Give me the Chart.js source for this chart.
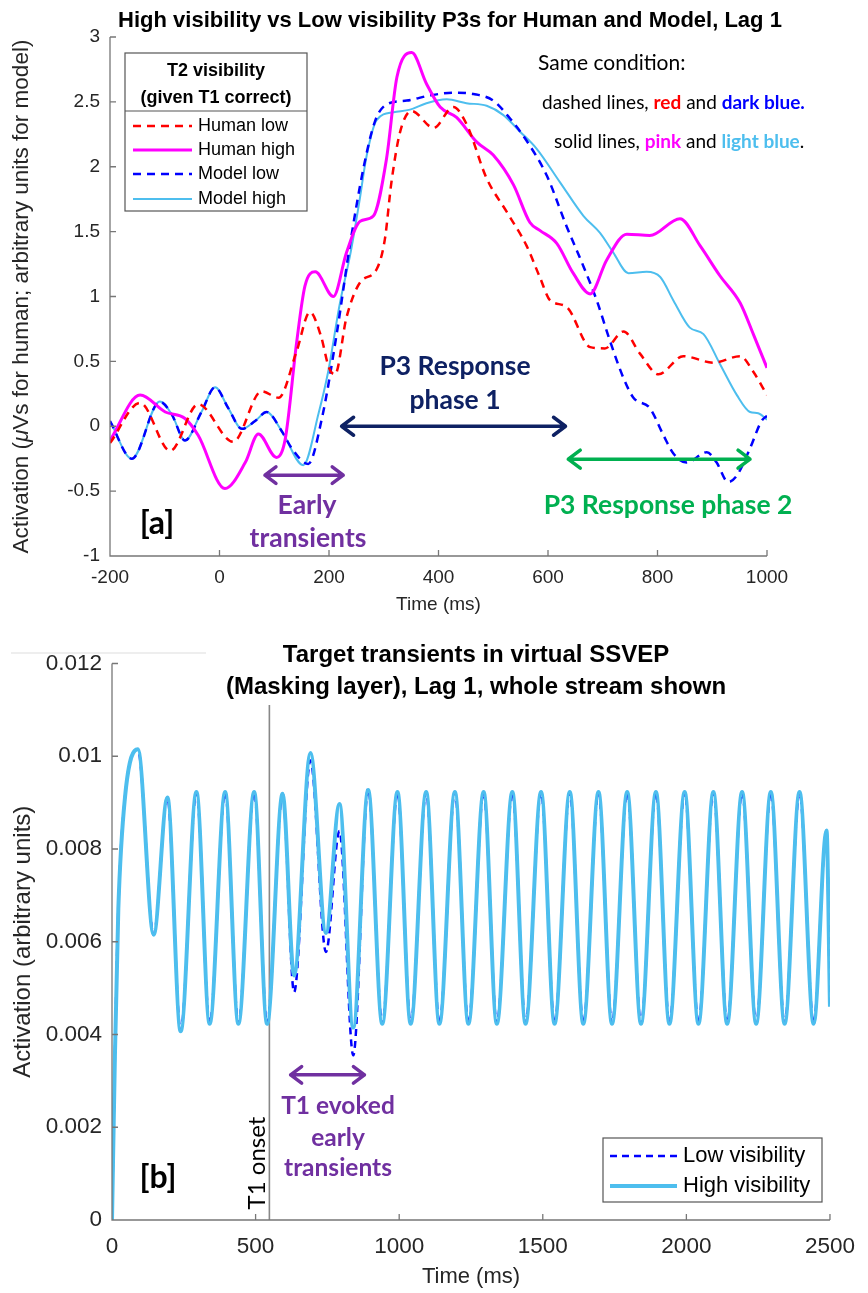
<!DOCTYPE html>
<html>
<head>
<meta charset="utf-8">
<script src="https://cdn.jsdelivr.net/npm/chart.js@4.4.0/dist/chart.umd.min.js"></script>
<style>
  body { margin: 0; background: #fff; width: 868px; height: 1293px; overflow: hidden; position: relative; }
  canvas { position: absolute; left: 0; }
  #chartA { top: 0; }
  #chartB { top: 640px; }
</style>
</head>
<body>
<canvas id="chartA" width="868" height="620"></canvas>
<canvas id="chartB" width="868" height="653"></canvas>
<script>
// --- PANEL [a] DATA: time (ms) and activation ---
const humanLowT  = [-200,-145,-90,-39,25,77,108,141,165,185,200,211,232,257,287,302,314,330,351,391,427,451,488,525,561,585,604,634,677,704,738,768,802,847,902,951,975,1000];
const humanLowV  = [-0.13,0.18,-0.19,0.17,-0.12,0.27,0.22,0.58,0.88,0.70,0.45,0.40,0.84,1.11,1.21,1.44,1.88,2.27,2.43,2.30,2.46,2.33,1.91,1.65,1.39,1.15,0.97,0.92,0.61,0.60,0.73,0.56,0.40,0.54,0.49,0.54,0.42,0.24];

const humanHighT = [-200,-145,-99,-63,-39,10,47,71,104,120,141,156,175,208,232,257,281,305,324,351,378,403,433,470,500,537,567,585,616,646,677,707,744,786,841,878,914,951,975,1000];
const humanHighV = [-0.11,0.24,0.11,0.06,-0.07,-0.48,-0.28,-0.06,-0.24,-0.10,0.65,1.08,1.19,1.00,1.34,1.58,1.62,2.06,2.69,2.88,2.64,2.46,2.38,2.19,2.09,1.86,1.57,1.51,1.41,1.18,1.02,1.28,1.48,1.47,1.60,1.39,1.16,0.95,0.71,0.45];

const modelLowT  = [-200,-160,-109,-87,-63,-33,-8,16,41,65,86,114,132,162,187,214,238,263,284,305,342,385,427,464,500,531,561,598,634,665,689,713,738,756,786,811,829,853,890,908,929,945,969,990,1000];
const modelLowV  = [0.04,-0.25,0.19,0.09,-0.11,0.11,0.30,0.14,-0.02,0.04,0.11,-0.04,-0.17,-0.29,0.06,0.71,1.39,1.99,2.35,2.48,2.51,2.55,2.57,2.56,2.51,2.37,2.20,1.93,1.54,1.23,0.97,0.66,0.37,0.22,0.14,-0.07,-0.21,-0.28,-0.20,-0.28,-0.43,-0.38,-0.17,0.04,0.08];

const modelHighT = [-200,-160,-109,-87,-63,-33,-8,16,41,65,86,114,153,181,198,220,240,255,269,287,318,348,378,415,451,488,518,549,579,622,665,695,719,747,780,805,829,859,884,914,945,969,984,1000];
const modelHighV = [0.04,-0.25,0.19,0.09,-0.11,0.11,0.30,0.14,-0.02,0.04,0.11,-0.04,-0.30,0.10,0.41,0.95,1.35,1.72,2.09,2.36,2.42,2.44,2.49,2.52,2.49,2.47,2.40,2.27,2.14,1.88,1.62,1.49,1.34,1.18,1.19,1.15,0.97,0.76,0.71,0.48,0.24,0.11,0.10,0.05];

const xTicksA = [-200, 1000, 200];   // min, max, step
const yTicksA = [-1, 3, 0.5];

// --- PANEL [b] DATA: virtual SSVEP, whole stream ---
const streamT = [0,10,22,45,90,145,193,239,294,340,394,440,495,540,594,634,691,745,792,840,892,941,994,1040,1094,1140,1194,1241,1294,1340,1394,1440,1494,1541,1594,1641,1694,1741,1794,1842,1894,1941,1994,2042,2094,2142,2194,2243,2294,2342,2394,2443,2488,2500];
const highVis = [0,0.0035,0.0067,0.0091,0.01015,0.00615,0.00911,0.00407,0.00923,0.00423,0.00923,0.00423,0.00923,0.00423,0.00919,0.00527,0.01007,0.00619,0.00897,0.00415,0.00927,0.00423,0.00923,0.00423,0.00923,0.00423,0.00923,0.00423,0.00923,0.00423,0.00923,0.00423,0.00923,0.00423,0.00923,0.00423,0.00923,0.00423,0.00923,0.00423,0.00923,0.00423,0.00923,0.00423,0.00923,0.00423,0.00923,0.00423,0.00923,0.00423,0.00923,0.00423,0.0084,0.0046];
const lowVis  = [0,0.0035,0.0067,0.0091,0.01015,0.00615,0.00911,0.00407,0.00923,0.00423,0.00923,0.00423,0.00923,0.00423,0.00919,0.00491,0.00991,0.00578,0.00839,0.00355,0.0093,0.00423,0.00923,0.00423,0.00923,0.00423,0.00923,0.00423,0.00923,0.00423,0.00923,0.00423,0.00923,0.00423,0.00923,0.00423,0.00923,0.00423,0.00923,0.00423,0.00923,0.00423,0.00923,0.00423,0.00923,0.00423,0.00923,0.00423,0.00923,0.00423,0.00923,0.00423,0.0084,0.0046];
const t1Onset = 548;
const xTicksB = [0, 2500, 500];
const yTicksB = [0, 0.012, 0.002];

const AX = "'Liberation Sans', Arial, sans-serif";
const CAL = "Lato, 'Open Sans', sans-serif";
const PURPLE = '#7030a0', NAVY = '#0e2163', GREEN = '#00b050', LIGHTBLUE = '#4dbeee';

const pts = (t, v) => t.map((x, i) => ({ x: x, y: v[i] }));

// --- DRAW HELPERS ---
function runs(ctx, parts, x, y, align, rot) {
    ctx.save();
    ctx.translate(x, y);
    if (rot) ctx.rotate(rot);
    ctx.textBaseline = 'middle';
    ctx.textAlign = 'left';
    let w = 0;
    parts.forEach(p => { ctx.font = p[2]; w += ctx.measureText(p[0]).width; });
    let cx = align === 'center' ? -w / 2 : (align === 'right' ? -w : 0);
    parts.forEach(p => {
        ctx.font = p[2]; ctx.fillStyle = p[1];
        ctx.fillText(p[0], cx, 0);
        cx += ctx.measureText(p[0]).width;
    });
    ctx.restore();
}
function txt(ctx, s, x, y, font, color, align, rot) { runs(ctx, [[s, color, font]], x, y, align || 'center', rot); }

function dblArrow(ctx, x1, x2, y, color, lw, head) {
    ctx.save();
    ctx.strokeStyle = color; ctx.lineWidth = lw; ctx.lineCap = 'round'; ctx.lineJoin = 'round';
    ctx.beginPath();
    ctx.moveTo(x1, y); ctx.lineTo(x2, y);
    ctx.moveTo(x1 + head, y - head * 0.75); ctx.lineTo(x1, y); ctx.lineTo(x1 + head, y + head * 0.75);
    ctx.moveTo(x2 - head, y - head * 0.75); ctx.lineTo(x2, y); ctx.lineTo(x2 - head, y + head * 0.75);
    ctx.stroke();
    ctx.restore();
}

function axesAndTicks(chart) {
    const ctx = chart.ctx, a = chart.chartArea, xs = chart.scales.x, ys = chart.scales.y;
    ctx.save();
    ctx.strokeStyle = '#777'; ctx.lineWidth = 1.3;
    ctx.beginPath();
    ctx.moveTo(a.left, a.top); ctx.lineTo(a.left, a.bottom); ctx.lineTo(a.right, a.bottom);
    xs.ticks.forEach(t => { const p = xs.getPixelForValue(t.value); ctx.moveTo(p, a.bottom); ctx.lineTo(p, a.bottom - 6); });
    ys.ticks.forEach(t => { const p = ys.getPixelForValue(t.value); ctx.moveTo(a.left, p); ctx.lineTo(a.left + 6, p); });
    ctx.stroke();
    ctx.restore();
}

function legendBox(chart, box, order, rowY, font, x0, x1, tx) {
    const ctx = chart.ctx;
    ctx.save();
    ctx.fillStyle = '#fff'; ctx.fillRect(box[0], box[1], box[2], box[3]);
    ctx.strokeStyle = '#555'; ctx.lineWidth = 1.2;
    ctx.strokeRect(box[0], box[1], box[2], box[3]);
    order.forEach((i, k) => {
        const ds = chart.data.datasets[i];
        ctx.strokeStyle = ds.borderColor; ctx.lineWidth = ds.borderWidth;
        ctx.setLineDash(ds.borderDash || []);
        ctx.beginPath(); ctx.moveTo(x0, rowY[k]); ctx.lineTo(x1, rowY[k]); ctx.stroke();
        ctx.setLineDash([]);
        txt(ctx, ds.label, tx, rowY[k], font, '#000', 'left');
    });
    ctx.restore();
}

const decorA = {
    id: 'decorA',
    afterDraw(chart) {
        const ctx = chart.ctx, a = chart.chartArea;
        const X = v => chart.scales.x.getPixelForValue(v), Y = v => chart.scales.y.getPixelForValue(v);
        axesAndTicks(chart);
        txt(ctx, 'High visibility vs Low visibility P3s for Human and Model, Lag 1', 450, 21, 'bold 22px ' + AX, '#000');
        txt(ctx, 'Time (ms)', (a.left + a.right) / 2, 605, '19px ' + AX, '#262626');
        runs(ctx, [['Activation (', '#262626', '22.5px ' + AX], ['\u03bc', '#262626', 'italic 22.5px ' + AX],
                   ['Vs for human; arbitrary units for model)', '#262626', '22.5px ' + AX]], 22, (a.top + a.bottom) / 2, 'center', -Math.PI / 2);

        // legend with header
        legendBox(chart, [125, 53, 182, 158], [0, 1, 2, 3], [126, 150, 174, 199], '18px ' + AX, 133, 192, 198);
        txt(ctx, 'T2 visibility', 216, 71, 'bold 18px ' + AX, '#000');
        txt(ctx, '(given T1 correct)', 216, 98, 'bold 18px ' + AX, '#000');
        ctx.save(); ctx.strokeStyle = '#555'; ctx.lineWidth = 1.2;
        ctx.beginPath(); ctx.moveTo(125, 111); ctx.lineTo(307, 111); ctx.stroke(); ctx.restore();

        // note on line styles
        txt(ctx, 'Same condition:', 538, 63, '21px ' + CAL, '#000', 'left');
        runs(ctx, [['dashed lines, ', '#000', '19px ' + CAL], ['red', '#ff0000', 'bold 19px ' + CAL], [' and ', '#000', '19px ' + CAL],
                   ['dark blue.', '#0000ff', 'bold 19px ' + CAL]], 542, 103, 'left');
        runs(ctx, [['solid lines, ', '#000', '19px ' + CAL], ['pink', '#ff00ff', 'bold 19px ' + CAL], [' and ', '#000', '19px ' + CAL],
                   ['light blue', LIGHTBLUE, 'bold 19px ' + CAL], ['.', '#000', '19px ' + CAL]], 554, 142, 'left');

        // annotations
        dblArrow(ctx, X(223), X(632), Y(0), NAVY, 3.5, 12);
        txt(ctx, 'P3 Response', 455, 366, 'bold 26.5px ' + CAL, NAVY);
        txt(ctx, 'phase 1', 455, 400, 'bold 26.5px ' + CAL, NAVY);
        dblArrow(ctx, X(83), X(226), Y(-0.377), PURPLE, 3.5, 11);
        txt(ctx, 'Early', 307, 505, 'bold 26.5px ' + CAL, PURPLE);
        txt(ctx, 'transients', 308, 538, 'bold 26.5px ' + CAL, PURPLE);
        dblArrow(ctx, X(637), X(969), Y(-0.254), GREEN, 3.5, 12);
        txt(ctx, 'P3 Response phase 2', 668, 505, 'bold 26.5px ' + CAL, GREEN);
        txt(ctx, '[a]', 157, 524, 'bold 32px ' + CAL, '#000');
    }
};

const decorB = {
    id: 'decorB',
    beforeDatasetsDraw(chart) {
        const ctx = chart.ctx, a = chart.chartArea, x = chart.scales.x.getPixelForValue(t1Onset);
        ctx.save(); ctx.strokeStyle = '#888'; ctx.lineWidth = 1.6;
        ctx.beginPath(); ctx.moveTo(x, 65); ctx.lineTo(x, a.bottom); ctx.stroke(); ctx.restore();
    },
    afterDraw(chart) {
        const ctx = chart.ctx, a = chart.chartArea;
        const X = v => chart.scales.x.getPixelForValue(v), Y = v => chart.scales.y.getPixelForValue(v);
        axesAndTicks(chart);
        ctx.save(); ctx.strokeStyle = '#ddd'; ctx.lineWidth = 1;
        ctx.beginPath(); ctx.moveTo(11, 13); ctx.lineTo(206, 13); ctx.stroke(); ctx.restore();
        txt(ctx, 'Target transients in virtual SSVEP', 476, 15, 'bold 24px ' + AX, '#000');
        txt(ctx, '(Masking layer), Lag 1, whole stream shown', 476, 47, 'bold 24px ' + AX, '#000');
        txt(ctx, 'Time (ms)', (a.left + a.right) / 2, 637, '22px ' + AX, '#262626');
        txt(ctx, 'Activation (arbitrary units)', 23, (a.top + a.bottom) / 2, '24px ' + AX, '#262626', 'center', -Math.PI / 2);
        txt(ctx, 'T1 onset', 257, 523, '24px ' + CAL, '#000', 'center', -Math.PI / 2);
        dblArrow(ctx, X(622), X(879), Y(0.00313), PURPLE, 3.5, 11);
        txt(ctx, 'T1 evoked', 338, 466, 'bold 24.5px ' + CAL, PURPLE);
        txt(ctx, 'early', 338, 498, 'bold 24.5px ' + CAL, PURPLE);
        txt(ctx, 'transients', 338, 528, 'bold 24.5px ' + CAL, PURPLE);
        txt(ctx, '[b]', 158, 538, 'bold 32px ' + CAL, '#000');
        legendBox(chart, [603, 498, 219, 64], [0, 1], [516, 546], '22px ' + AX, 610, 677, 683);
    }
};

function baseOptions(xt, yt, pad, yW, xH, fs, xPad, fmt) {
    return {
        responsive: false, animation: false,
        layout: { padding: pad },
        plugins: { legend: { display: false }, tooltip: { enabled: false } },
        elements: { point: { radius: 0 } },
        scales: {
            x: {
                type: 'linear', min: xt[0], max: xt[1],
                grid: { display: false, drawTicks: false }, border: { display: false },
                ticks: { stepSize: xt[2], color: '#262626', font: { size: fs, family: AX }, padding: xPad, maxRotation: 0, autoSkip: false, callback: v => String(v) },
                afterFit: s => { s.height = xH; }
            },
            y: {
                min: yt[0], max: yt[1],
                grid: { display: false, drawTicks: false }, border: { display: false },
                ticks: { stepSize: yt[2], color: '#262626', font: { size: fs, family: AX }, padding: 10, callback: fmt },
                afterFit: s => { s.width = yW; }
            }
        }
    };
}

new Chart(document.getElementById('chartA'), {
    type: 'line',
    data: {
        datasets: [
            { label: 'Human low', data: pts(humanLowT, humanLowV), borderColor: '#ff0000', borderWidth: 2.5, borderDash: [8, 6], cubicInterpolationMode: 'monotone' },
            { label: 'Human high', data: pts(humanHighT, humanHighV), borderColor: '#ff00ff', borderWidth: 3, cubicInterpolationMode: 'monotone' },
            { label: 'Model low', data: pts(modelLowT, modelLowV), borderColor: '#0000ff', borderWidth: 2.5, borderDash: [8, 6], cubicInterpolationMode: 'monotone' },
            { label: 'Model high', data: pts(modelHighT, modelHighV), borderColor: LIGHTBLUE, borderWidth: 2, cubicInterpolationMode: 'monotone' }
        ]
    },
    options: baseOptions(xTicksA, yTicksA, { top: 37, right: 101, left: 0, bottom: 0 }, 110, 64, 19, 10, v => String(v)),
    plugins: [decorA]
});

new Chart(document.getElementById('chartB'), {
    type: 'line',
    data: {
        datasets: [
            { label: 'Low visibility', data: pts(streamT, lowVis), borderColor: '#0000ff', borderWidth: 2.5, borderDash: [7, 5], cubicInterpolationMode: 'monotone', order: 2 },
            { label: 'High visibility', data: pts(streamT, highVis), borderColor: LIGHTBLUE, borderWidth: 4, cubicInterpolationMode: 'monotone', order: 1 }
        ]
    },
    options: baseOptions(xTicksB, yTicksB, { top: 23, right: 28, left: 0, bottom: 0 }, 112, 73, 22.5, 13, v => String(parseFloat(v.toFixed(4)))),
    plugins: [decorB]
});
</script>
</body>
</html>
